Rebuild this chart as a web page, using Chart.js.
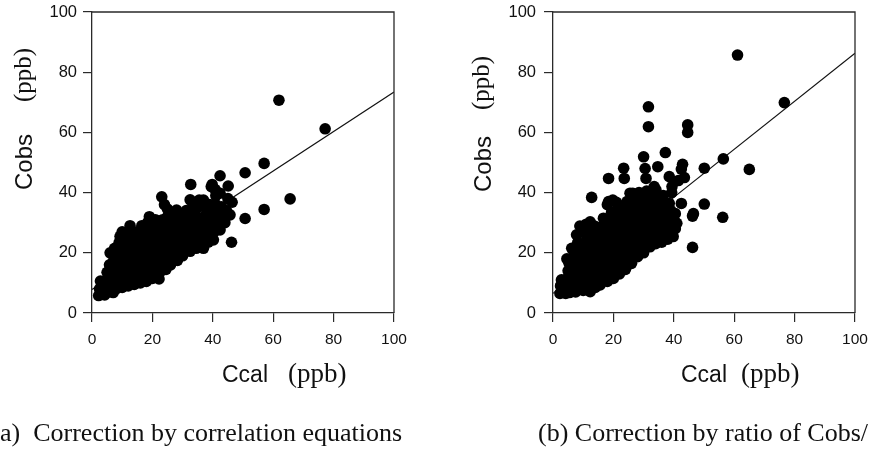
<!DOCTYPE html>
<html><head><meta charset="utf-8">
<script src="https://cdn.jsdelivr.net/npm/chart.js@4/dist/chart.umd.min.js"></script>
<style>
html,body{margin:0;padding:0;background:#fff;}
#wrap{position:relative;width:872px;height:450px;overflow:hidden;background:#fff;}
canvas{position:absolute;top:0;}
</style></head><body>
<div id="wrap">
<canvas id="ca" width="436" height="450" style="left:0"></canvas>
<canvas id="cb" width="436" height="450" style="left:436px"></canvas>
</div>
<script>
// ---- data ----
const axisTicks = [0, 20, 40, 60, 80, 100];
const xTitle = ['Ccal', '(ppb)'];
const yTitle = ['Cobs', '(ppb)'];
const leftCaption = 'a)  Correction by correlation equations';
const rightCaption = '(b) Correction by ratio of Cobs/';

// (a) correction by correlation equations: [Ccal, Cobs]
const leftPoints = [
[2.2,5.8],[2.5,8],[2.8,10.6],[3.5,6.5],[3.2,9],
[4.2,6],[4.5,8.5],[4.8,11],[5,13.5],[5.5,7],[5.8,16],
[6,20],[6.5,9.5],[6.8,12],[7,14.5],[7.2,17.5],[7,6.8],[7.5,21.5],
[8,8],[8.3,10.5],[8.5,13],[8.7,15.5],[8.8,18],[8.5,21],[9,23.5],[9.3,25.5],
[10,8.5],[10.5,11],[10.2,13.5],[10.8,16],[10.5,18.5],[11,21],[10.6,23.5],[11.2,26],[10,27],
[12,9],[12.5,11.5],[12.2,14],[12.8,16.5],[12.4,19],[13,21.5],[12.6,24],[13,26.5],[12.6,29],
[14,9.5],[14.5,12],[14.2,14.5],[14.8,17],[14.3,19.5],[15,22],[14.5,24.5],[15,27],
[16,10],[16.5,12.5],[16.2,15],[16.8,17.5],[16.4,20],[17,22.5],[16.6,25],[17.2,27.5],[16.5,29],
[18,10.5],[18.5,13],[18.2,15.5],[18.8,18],[18.4,20.5],[19,23],[18.6,25.5],[19.2,28],[19,32],[18.4,30],
[20,11.5],[20.5,14],[20.2,16.5],[20.8,19],[20.4,21.5],[21,24],[20.6,26.5],[21.2,29],[21,31],
[22.2,11.3],[22.5,13.5],[22.4,16],[23,18.5],[22.6,21],[23.2,23.5],[22.8,26],[23,28.5],[23.4,31],[23.1,38.6],[24,36],[25,34.5],
[24.5,14.5],[24.2,17],[25,19.5],[24.6,22],[25.2,24.5],[24.8,27],[25.5,29.5],[25,32],
[26,16],[26.5,18.5],[26.3,21],[27,23.5],[26.6,26],[27.2,28.5],[26.8,31],[27.5,33.5],
[28.3,17.5],[28.8,20],[28.4,22.5],[29,25],[28.6,27.5],[29.2,30],[28,34.2],[29.5,32.5],
[30,19],[30.5,21.5],[30.2,24],[30.8,26.5],[30.4,29],[31,31.5],[31.2,34],
[32.5,20.5],[32.2,23],[33,25.5],[32.6,28],[33.2,30.5],[32.8,33],[32.5,37.6],[32.7,42.7],[33.5,36],
[34.5,21.5],[34.2,24],[35,26.5],[34.6,29],[35.2,31.5],[34.7,34.8],[35.5,37.5],
[36.9,21.5],[36.4,24.5],[37,27],[36.6,29.5],[37.2,32],[36.9,37.5],[37.5,35],
[38.5,23.5],[38.2,26],[39,28.5],[38.6,31],[39.2,33.5],[39,36],[39.5,42],
[40.2,24.3],[40.5,27],[40.8,30],[40.3,33],[41,36],[40.8,41],[39.8,42.7],[41,39],
[42.4,27.6],[42.9,35.3],[42.4,39.8],[42.4,45.6],[43,31],[42.5,33],
[44,30],[45.1,42.2],[45.7,32.6],[46.4,36.8],[46.2,23.5],[44.5,34],[45,38],
[50.7,46.6],[57,49.7],[61.9,70.7],[77.2,61.2],[65.6,37.9],[57,34.4],[50.7,31.4]
];
const leftFit = [[0, 7.8], [100, 73.4]];

// (b) correction by ratio of Cobs/Ccal: [Ccal, Cobs]
const rightPoints = [
[2.3,6.5],[2.5,9],[2.8,11],[3.5,7.5],[3.3,10],
[4.2,6.5],[4.5,9],[4.8,11.5],[5,14],[5.5,6.8],[5.3,16.5],[4.6,18],
[6.2,21.5],[6.5,8],[6.8,10.5],[7,13],[7.2,15.5],[6.6,18],[7,20],[7.5,7],
[7.8,26],[8.9,28.9],[8.2,23.5],[8.6,21],[8.3,18.5],[8.8,16],[8.4,13.5],[8.9,11],[8.5,8.5],
[10,7.5],[10.5,10],[10.2,12.5],[10.8,15],[10.4,17.5],[11,20],[10.6,22.5],[11.2,25],[10.8,27.5],[11,29.5],
[12.3,7.1],[12.5,9.5],[12.2,12],[12.8,14.5],[12.4,17],[13,19.5],[12.6,22],[13.2,24.5],[12.8,27],[12.3,30.3],[12.8,38.4],[13.5,29],
[14,8.5],[14.5,11],[14.2,13.5],[14.8,16],[14.3,18.5],[15,21],[14.5,23.5],[15.2,26],[14.8,28.5],
[15.6,9.3],[16.5,12],[16.2,14.5],[16.8,17],[16.4,19.5],[17,22],[16.6,24.5],[17.2,27],[16.7,31.5],[17,29.5],
[18,10.5],[18.5,13],[18.2,15.5],[18.8,18],[18.4,20.5],[19,23],[18.6,25.5],[19.2,28],[18.8,30.5],[19.4,33.5],[18.4,37],[19.8,37.5],[18.4,44.7],[18,36],
[20,11.5],[20.5,14],[20.2,16.5],[20.8,19],[20.4,21.5],[21,24],[20.6,26.5],[21.2,29],[20.8,31.5],[21.3,34],[21,36.8],
[22,13],[22.5,15.5],[22.3,18],[23,20.5],[22.6,23],[23.2,25.5],[22.8,28],[23.4,30.5],[23,33],[23.4,48.1],[23.6,44.7],[22.5,35.5],
[24,14.5],[24.5,17],[24.3,19.5],[25,22],[24.6,24.5],[25.2,27],[24.8,29.5],[25.4,32],[25,34.5],[25.5,39.8],[24.5,37],
[26,16.5],[26.5,19],[26.3,21.5],[27,24],[26.6,26.5],[27.2,29],[26.8,31.5],[27.4,34],[26.4,39.8],[27.5,19.6],[27,37],
[28,18.7],[28.5,21],[28.3,23.5],[29,26],[28.6,28.5],[29.2,31],[28.8,33.5],[29.4,36],[28.5,40],[29,38.5],
[30,20],[30.5,22.5],[30.3,25],[31,27.5],[30.6,30],[31.2,32.5],[30.8,35],[30,51.9],[30.8,44.7],[31.6,61.9],[31.6,68.5],[31,40.5],[30.5,48],[31.5,37.5],
[32.1,22],[32.4,24.5],[32.3,27],[33,29.5],[32.6,32],[33.2,34.5],[32.8,37],[32.5,40],[33.5,42],
[34,23],[34.5,25.5],[34.3,28],[35,30.5],[34.6,33],[35.2,35.5],[34.1,40.9],[34.7,48.6],[35,38],
[36,23.5],[36.5,26],[36.3,28.5],[37,31],[36.6,33.5],[37.2,36],[37.2,53.3],[36.5,39],
[38,24.5],[38.5,27],[38.3,29.5],[39,32],[38.5,36.4],[38.5,45.3],[39.4,42],[39.3,40],[39,34],
[39.8,25.4],[40.5,28],[41,29.8],[40.2,30.5],[40.5,33],
[42.5,36.4],[42.9,49.4],[42.5,47.8],[44.6,62.5],[44.6,60],[41.5,44],[43.5,45],
[46.2,32.2],[46.2,21.8],[46.5,33],[50.1,48.1],[50.1,36.2],[56.4,51.2],[56.2,31.8],[61.1,85.7],[65,47.7],[76.6,69.9]
];
const rightFit = [[0, 6.5], [100, 86.3]];

// ---- drawing ----
const INK = '#111';
const AXIS = '#2a2a2a';
const SANS = '"Liberation Sans", Arial, Helvetica, sans-serif';
const SERIF = '"Liberation Serif", "Times New Roman", serif';

const mixedText = {
  id: 'mixedText',
  afterDraw(chart, args, o) {
    const ctx = chart.ctx, a = chart.chartArea;
    ctx.save();
    ctx.strokeStyle = AXIS; ctx.lineWidth = 1.3;
    ctx.beginPath();
    ctx.moveTo(a.left, a.top); ctx.lineTo(a.right, a.top); ctx.lineTo(a.right, a.bottom);
    ctx.stroke();
    ctx.fillStyle = INK; ctx.textAlign = 'left'; ctx.textBaseline = 'alphabetic';
    o.xParts.forEach(t => { ctx.font = t.font; ctx.fillText(t.text, t.x, t.y); });
    o.yParts.forEach(t => {
      ctx.save(); ctx.translate(t.x, t.y); ctx.rotate(-Math.PI / 2);
      ctx.font = t.font; ctx.fillText(t.text, 0, 0); ctx.restore();
    });
    ctx.font = '26px ' + SERIF;
    ctx.fillText(o.caption, o.capX, 441);
    ctx.restore();
  }
};

function axis(extra, labelPad, fontSize) {
  return Object.assign({
    type: 'linear', min: 0, max: 100,
    afterBuildTicks: s => { s.ticks = axisTicks.map(v => ({ value: v })); },
    ticks: { color: INK, padding: labelPad, font: { family: SANS, size: fontSize }, maxRotation: 0, autoSkip: false },
    grid: { display: true, drawOnChartArea: false, drawTicks: true, tickLength: 9, color: AXIS, lineWidth: 1.2 },
    border: { display: true, color: AXIS, width: 1.3 },
  }, extra);
}

function makeChart(id, points, fit, cfg) {
  new Chart(document.getElementById(id), {
    type: 'scatter',
    data: {
      datasets: [
        { data: points.map(p => ({ x: p[0], y: p[1] })), backgroundColor: '#000', borderWidth: 0,
          pointRadius: 5.8, pointHoverRadius: 5.8, order: 0 },
        { type: 'line', data: fit.map(p => ({ x: p[0], y: p[1] })), borderColor: '#111', borderWidth: 1.1,
          pointRadius: 0, fill: false, order: 1 }
      ]
    },
    options: {
      responsive: false, animation: false, devicePixelRatio: 1,
      layout: { padding: { left: 0, right: cfg.padRight, top: 12, bottom: 97 } },
      plugins: { legend: { display: false }, tooltip: { enabled: false }, mixedText: cfg.text },
      scales: {
        x: axis({ position: 'bottom', afterFit: s => { s.height = 40; s.paddingLeft = 0; s.paddingRight = 0; } }, 8, 15.5),
        y: axis({ position: 'left', afterFit: s => { s.width = cfg.yWidth; s.paddingTop = 0; s.paddingBottom = 0; } }, cfg.yPad, 16.5)
      }
    },
    plugins: [mixedText]
  });
}

makeChart('ca', leftPoints, leftFit, {
  padRight: 42, yWidth: 92, yPad: 6,
  text: {
    xParts: [{ text: xTitle[0], font: '23px ' + SANS, x: 222, y: 382 },
             { text: xTitle[1], font: '27px ' + SERIF, x: 288, y: 382 }],
    yParts: [{ text: yTitle[0], font: '24px ' + SANS, x: 32, y: 190 },
             { text: yTitle[1], font: '25px ' + SERIF, x: 31, y: 102 }],
    caption: leftCaption, capX: 0
  }
});
makeChart('cb', rightPoints, rightFit, {
  padRight: 17, yWidth: 117, yPad: 8,
  text: {
    xParts: [{ text: xTitle[0], font: '23px ' + SANS, x: 245, y: 382 },
             { text: xTitle[1], font: '27px ' + SERIF, x: 305, y: 382 }],
    yParts: [{ text: yTitle[0], font: '24px ' + SANS, x: 55, y: 192 },
             { text: yTitle[1], font: '25px ' + SERIF, x: 53, y: 110 }],
    caption: rightCaption, capX: 102
  }
});
</script>
</body></html>
